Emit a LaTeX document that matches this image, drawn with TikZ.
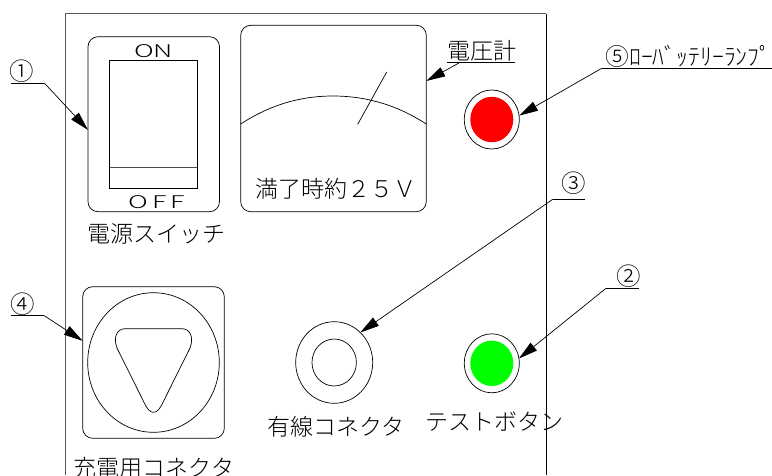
\documentclass[tikz,border=0pt]{standalone}
\usepackage{fontspec}
\usetikzlibrary{arrows.meta,shapes.geometric}
\newfontfamily\jpfont{Noto Sans CJK JP Light}
\newfontfamily\onoff[FakeStretch=1.55]{Noto Sans CJK JP Light}
\tikzset{
  line/.style={draw=black,line width=0.7pt},
  box/.style={line,rectangle,rounded corners=10pt,inner sep=0pt,outer sep=0pt},
  oval/.style={line,ellipse,inner sep=0pt,outer sep=0pt},
  lab/.style={inner sep=0pt,outer sep=0pt,text=black,font=\jpfont\fontsize{23}{23}\selectfont},
  num/.style={lab,font=\jpfont\fontsize{24.5}{24.5}\selectfont},
  sw/.style={inner sep=0pt,outer sep=0pt,text=black,font=\onoff\fontsize{17.5}{17.5}\selectfont},
  leader/.style={line,-{Triangle[length=19pt,width=10pt]}},
  rule/.style={line}
}
\begin{document}
\begin{tikzpicture}[x=1pt,y=-1pt]
\useasboundingbox (0,0) rectangle (772,475);
\fill[white] (0,0) rectangle (772,475);
% panel
\coordinate (pa) at (65.6,475);
\coordinate (pb) at (65.6,13.6);
\coordinate (pc) at (546.4,13.6);
\coordinate (pd) at (546.4,475);
\draw[draw=black!65,line width=1pt] (pa) -- (pb) -- (pc);
\draw[line] (pc) -- (pd);
% switch
\node[box,minimum width=131.5pt,minimum height=175pt] (switch) at (153.75,124.2) {};
\node[line,rectangle,inner sep=0pt,outer sep=0pt,minimum width=87.6pt,minimum height=128pt] (rocker) at (153.5,124.3) {};
\coordinate (rl) at (109.7,167.7);
\coordinate (rr) at (197.3,167.7);
\draw[line,draw=black!70] (rl) -- (rr);
\node[sw] (on) at (153.5,51.5) {ON};
\node[sw] (off) at (157,202) {O\kern4pt F\kern4pt F};
\node[lab] (swlab) at (156,234) {電源スイッチ};
% meter
\node[box,minimum width=185.6pt,minimum height=186.4pt] (meter) at (333.5,118.5) {};
\coordinate (ma) at (240.7,124);
\coordinate (mb) at (426.3,124);
\coordinate (na) at (357.7,124.3);
\coordinate (nb) at (386.7,72);
\draw[line] (ma) .. controls (270,105) and (300,96) .. (333,96) .. controls (366,96) and (397,105) .. (mb);
\draw[line] (na) -- (nb);
\node[lab] (mtext) at (335.5,189) {満了時約２５Ｖ};
\node[lab] (vlab) at (481.5,51) {電圧計};
% lamps
\node[oval,minimum width=55pt,minimum height=59pt] (red) at (491.8,119.5) {};
\fill[red] (491.8,119.5) ellipse [x radius=21.5,y radius=22.7];
\node[oval,minimum width=55pt,minimum height=59pt] (grn) at (491.8,363.3) {};
\fill[green] (491.8,363.3) ellipse [x radius=21.5,y radius=22.7];
% charger
\node[box,minimum width=141.6pt,minimum height=151.6pt] (chg) at (153.5,362.5) {};
\node[oval,minimum width=131.6pt,minimum height=139.6pt] (chgc) at (153.5,362.5) {};
\draw[line] (125,328.7) -- (182,328.7)
  .. controls (189,328.7) and (194.5,336) .. (190,348)
  -- (163.3,401.7)
  .. controls (160,409) and (157,412.3) .. (153.5,412.3)
  .. controls (150,412.3) and (147,409) .. (143.7,401.7)
  -- (117,348)
  .. controls (112.5,336) and (118,328.7) .. (125,328.7) -- cycle;
\node[lab] (chglab) at (154,468) {充電用コネクタ};
% wired connector
\node[oval,minimum width=77pt,minimum height=81.6pt] (wire) at (334.2,362.5) {};
\node[oval,minimum width=44.4pt,minimum height=47pt] (wirei) at (334.2,362.5) {};
\node[lab] (wirelab) at (336.3,426.7) {有線コネクタ};
\node[lab] (testlab) at (494.7,421.7) {テストボタン};
% callouts
\node[num] (n1) at (22,71.5) {①};
\coordinate (s1) at (11,83);
\coordinate (e1) at (44.3,83);
\draw[rule] (s1) -- (e1);
\draw[leader] (e1) -- (switch.185.65);
\node[num] (n4) at (23,304.3) {④};
\coordinate (s4) at (11,315.7);
\coordinate (e4) at (44.3,315.7);
\draw[rule] (s4) -- (e4);
\draw[leader] (e4) -- (chg.163.6);
\node[num] (n3) at (573.7,183.3) {③};
\coordinate (s3) at (585,199.3);
\coordinate (e3) at (552.7,199.3);
\draw[rule] (s3) -- (e3);
\draw[leader] (e3) -- (wire.49.5);
\node[num] (n2) at (628.3,276) {②};
\coordinate (s2) at (639,288.3);
\coordinate (e2) at (606,288.3);
\draw[rule] (s2) -- (e2);
\draw[leader] (e2) -- (grn.10.4);
\node[lab,font=\jpfont\fontsize{23.7}{23.7}\selectfont] (n5) at (688.5,56.5) {⑤ﾛｰﾊﾞｯﾃﾘｰﾗﾝﾌﾟ};
\coordinate (s5) at (772,68.3);
\coordinate (e5) at (601.7,68.3);
\draw[rule] (s5) -- (e5);
\draw[leader] (e5) -- (red.8);
\coordinate (sv) at (515,62.4);
\coordinate (mv) at (447,62.4);
\coordinate (ev) at (460,62.4);
\draw[rule] (sv) -- (mv);
\draw[leader] (ev) -- (meter.22.6);
\end{tikzpicture}
\end{document}
